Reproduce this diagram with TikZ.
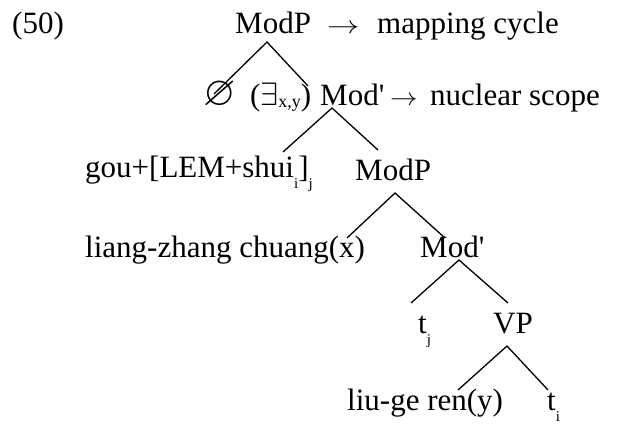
\documentclass[tikz,border=0pt]{standalone}
\usepackage{amssymb}
\usepackage{fontspec}
\setmainfont{Liberation Serif}
\newcommand\treefont{\fontsize{31}{37}\selectfont}
\newcommand\lsub[1]{\raisebox{-11pt}{\fontsize{15}{15}\selectfont #1}}
\newcommand\qsub[1]{\raisebox{-2pt}{\fontsize{18}{18}\selectfont #1}}
\newcommand\bigarrow{\scalebox{1.3}[1]{$\rightarrow$}}
\begin{document}
\begin{tikzpicture}[x=1pt,y=-1pt,
  lbl/.style={inner sep=0pt, anchor=base west, font=\treefont},
  branch/.style={line width=1.3pt}]
\useasboundingbox (0,0) rectangle (618,423);
% row 1
\node[lbl] (n50) at (12,33) {(50)};
\node[lbl] (m1) at (235,33) {ModP};
\node[lbl] (r1) at (327,33) {\bigarrow};
\node[lbl] (a1) at (377,33) {mapping cycle};
% row 2
\node[lbl] (phi) at (203,105) {\scalebox{1.35}{$\varnothing$}};
\node[lbl] (ex) at (250,105) {(\scalebox{1.3}{$\exists$}\qsub{x,y})};
\node[lbl] (m2) at (320,105) {Mod\textquotesingle};
\node[lbl] (r2) at (390,105) {\scalebox{1.1}[1]{$\rightarrow$}};
\node[lbl] (a2) at (430,105) {nuclear scope};
% row 3
\node[lbl] (gou) at (85,177) {gou+[LEM+shui\lsub{i}]\lsub{j}};
\node[lbl] (m3) at (355,180) {ModP};
% row 4
\node[lbl] (liang) at (85,257) {liang-zhang chuang(x)};
\node[lbl] (m4) at (420,257) {Mod\textquotesingle};
% row 5
\node[lbl] (tj) at (418,333) {t\lsub{j}};
\node[lbl] (vp) at (493,333) {VP};
% row 6
\node[lbl] (liu) at (347,410) {liu-ge ren(y)};
\node[lbl] (ti) at (547,410) {t\lsub{i}};
% branches
\draw[branch] ([shift={(11,-11)}]phi.base west) -- ([shift={(32,9)}]m1.base west) -- ([shift={(-12,-19)}]m2.base west);
\draw[branch] ([shift={(198,-25)}]gou.base west) -- ([shift={(12,3)}]m2.base west) -- ([shift={(23,-30)}]m3.base west);
\draw[branch] ([shift={(262,-19)}]liang.base west) -- ([shift={(40,13)}]m3.base west) -- ([shift={(25,-19)}]m4.base west);
\draw[branch] ([shift={(-7,-30)}]tj.base west) -- ([shift={(39,3)}]m4.base west) -- ([shift={(15,-30)}]vp.base west);
\draw[branch] ([shift={(111,-20)}]liu.base west) -- ([shift={(14,13)}]vp.base west) -- ([shift={(1,-20)}]ti.base west);
\end{tikzpicture}
\end{document}
